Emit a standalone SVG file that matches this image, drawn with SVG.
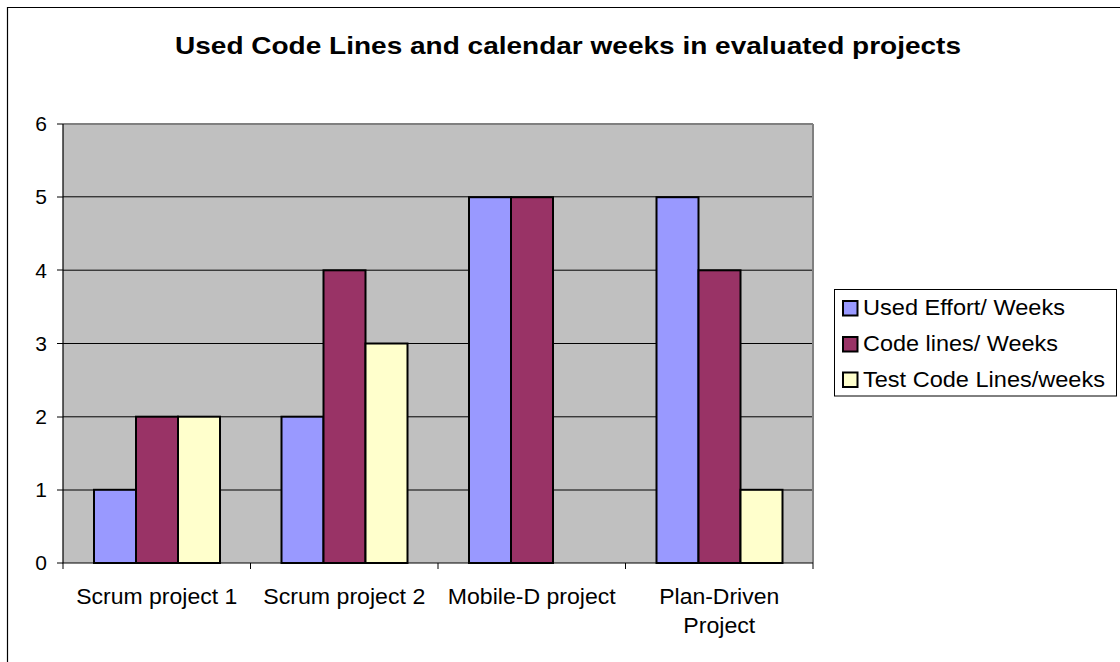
<svg xmlns="http://www.w3.org/2000/svg" width="1120" height="662" viewBox="0 0 1120 662">
<style>
text{font-family:"Liberation Sans",Arial,sans-serif;fill:#000}
.ax{font-size:21px;text-anchor:end}
.cat{font-size:22px;text-anchor:middle}
.leg{font-size:22px}
.grid{stroke:#000;stroke-width:1}
.bar{stroke:#000;stroke-width:2}
.s1{fill:#9999FF}.s2{fill:#993366}.s3{fill:#FFFFCC}
</style>
<rect x="0" y="0" width="1120" height="662" fill="#fff"/>
<path d="M7.5 662V7.5H1120" fill="none" stroke="#000" stroke-width="1.2"/>
<text id="title" x="568" y="54" font-size="24" font-weight="bold" text-anchor="middle" textLength="786" lengthAdjust="spacingAndGlyphs">Used Code Lines and calendar weeks in evaluated projects</text>
<g id="plot">
<rect x="63" y="124" width="750" height="439" fill="#C0C0C0"/>
<g class="grid">
<line x1="63" y1="196.8" x2="813" y2="196.8"/>
<line x1="63" y1="270.2" x2="813" y2="270.2"/>
<line x1="63" y1="343.5" x2="813" y2="343.5"/>
<line x1="63" y1="416.8" x2="813" y2="416.8"/>
<line x1="63" y1="490" x2="813" y2="490"/>
</g>
<line x1="63" y1="124" x2="813" y2="124" stroke="#808080" stroke-width="2"/>
<line x1="813" y1="124" x2="813" y2="563" stroke="#808080" stroke-width="2"/>
<path d="M63 124V563H813" fill="none" stroke="#000" stroke-width="1.2"/>
<path d="M57 124H63M57 197H63M57 270H63M57 343.5H63M57 417H63M57 490H63M57 563H63M63 563V569M250.5 563V569M438 563V569M625.5 563V569M813 563V569" stroke="#000" stroke-width="1"/>
</g>
<g id="axis-labels">
<text class="ax" x="47" y="131">6</text>
<text class="ax" x="47" y="204">5</text>
<text class="ax" x="47" y="277.5">4</text>
<text class="ax" x="47" y="350.5">3</text>
<text class="ax" x="47" y="424">2</text>
<text class="ax" x="47" y="497">1</text>
<text class="ax" x="47" y="570">0</text>
</g>
<g id="scrum1">
<rect class="bar s1" x="94" y="489.8" width="42" height="73.2"/>
<rect class="bar s2" x="136" y="416.7" width="42" height="146.3"/>
<rect class="bar s3" x="178" y="416.7" width="42" height="146.3"/>
<text class="cat" x="156.75" y="604" textLength="161" lengthAdjust="spacingAndGlyphs">Scrum project 1</text>
</g>
<g id="scrum2">
<rect class="bar s1" x="281.5" y="416.7" width="42" height="146.3"/>
<rect class="bar s2" x="323.5" y="270.3" width="42" height="292.7"/>
<rect class="bar s3" x="365.5" y="343.5" width="42" height="219.5"/>
<text class="cat" x="344.25" y="604" textLength="162" lengthAdjust="spacingAndGlyphs">Scrum project 2</text>
</g>
<g id="mobiled">
<rect class="bar s1" x="469" y="197.2" width="42" height="365.8"/>
<rect class="bar s2" x="511" y="197.2" width="42" height="365.8"/>
<text class="cat" x="531.75" y="604" textLength="168" lengthAdjust="spacingAndGlyphs">Mobile-D project</text>
</g>
<g id="plandriven">
<rect class="bar s1" x="656.5" y="197.2" width="42" height="365.8"/>
<rect class="bar s2" x="698.5" y="270.3" width="42" height="292.7"/>
<rect class="bar s3" x="740.5" y="489.8" width="42" height="73.2"/>
<text class="cat" x="719.25" y="604" textLength="120" lengthAdjust="spacingAndGlyphs">Plan-Driven</text>
<text class="cat" x="719.25" y="632.5" textLength="72" lengthAdjust="spacingAndGlyphs">Project</text>
</g>
<g id="legend">
<rect x="834.5" y="289.5" width="282" height="106.5" fill="#fff" stroke="#000" stroke-width="1"/>
<rect class="bar s1" x="843" y="301" width="14.5" height="14.5"/>
<text class="leg" x="863" y="315" textLength="202" lengthAdjust="spacingAndGlyphs">Used Effort/ Weeks</text>
<rect class="bar s2" x="843" y="337" width="14.5" height="14.5"/>
<text class="leg" x="863" y="350.7" textLength="195" lengthAdjust="spacingAndGlyphs">Code lines/ Weeks</text>
<rect class="bar s3" x="843" y="372.5" width="14.5" height="14.5"/>
<text class="leg" x="863" y="386.5" textLength="242" lengthAdjust="spacingAndGlyphs">Test Code Lines/weeks</text>
</g>
</svg>
